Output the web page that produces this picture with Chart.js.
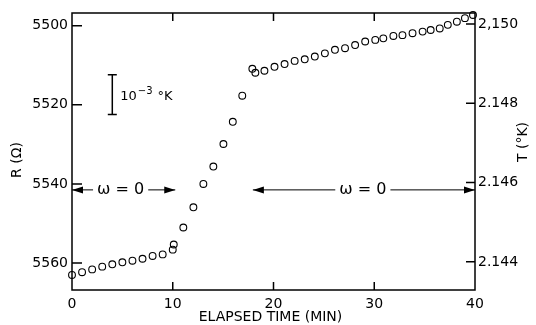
<!DOCTYPE html>
<html>
<head>
<meta charset="utf-8">
<script src="https://cdn.jsdelivr.net/npm/chart.js@4/dist/chart.umd.min.js"></script>
<style>
  body { margin: 0; background: #fff; }
  canvas { display: block; }
</style>
</head>
<body>
<canvas id="plot" width="536" height="325"></canvas>
<script>
// elapsed time (min) and resistance (ohm)
const timeMin = [0, 1, 2, 3, 4, 5, 6, 7, 8, 9, 10, 10.1,
  11.05, 12.05, 13.04, 14.03, 15.03, 15.96, 16.9,
  17.9, 18.2, 19.1, 20.1, 21.1, 22.1, 23.1, 24.1, 25.1, 26.1, 27.1, 28.1, 29.1, 30.1,
  30.9, 31.9, 32.8, 33.8, 34.8, 35.6, 36.5, 37.3, 38.2, 39.0, 39.8];
const resistance = [5563.0, 5562.3, 5561.6, 5560.9, 5560.3, 5559.8, 5559.4, 5558.9, 5558.2, 5557.8, 5556.6, 5555.3,
  5551.0, 5545.9, 5540.0, 5535.6, 5529.9, 5524.3, 5517.7,
  5510.9, 5511.9, 5511.4, 5510.4, 5509.7, 5508.9, 5508.5, 5507.8, 5507.0, 5506.1, 5505.7, 5504.9, 5504.0, 5503.6,
  5503.2, 5502.6, 5502.4, 5501.9, 5501.5, 5501.1, 5500.7, 5499.8, 5499.0, 5498.1, 5497.3];

const timeTicks = [0, 10, 20, 30, 40];
const rTicks = [5500, 5520, 5540, 5560];
const tTicks = [2.150, 2.148, 2.146, 2.144];
const tLabels = ['2,150', '2.148', '2.146', '2.144'];

const FONT = 'DejaVu Sans';

const frame = {
  id: 'frame',
  afterDraw(chart) {
    const ctx = chart.ctx;
    const a = chart.chartArea;
    const x = chart.scales.x, yR = chart.scales.y, yT = chart.scales.yT;
    ctx.save();
    ctx.strokeStyle = '#000';
    ctx.fillStyle = '#000';
    ctx.lineWidth = 1.5;
    ctx.strokeRect(a.left, a.top, a.right - a.left, a.bottom - a.top);

    // inward ticks
    ctx.beginPath();
    timeTicks.slice(1, -1).forEach(v => {
      const px = x.getPixelForValue(v);
      ctx.moveTo(px, a.bottom); ctx.lineTo(px, a.bottom - 8);
      ctx.moveTo(px, a.top); ctx.lineTo(px, a.top + 8);
    });
    rTicks.forEach(v => {
      const py = yR.getPixelForValue(v);
      ctx.moveTo(a.left, py); ctx.lineTo(a.left + 10, py);
    });
    tTicks.forEach(v => {
      const py = yT.getPixelForValue(v);
      ctx.moveTo(a.right, py); ctx.lineTo(a.right - 9, py);
    });
    ctx.stroke();

    // omega = 0 arrows
    ctx.lineWidth = 1;
    const arrowY = yR.getPixelForValue(5541.5);
    const head = (px, dir) => {
      ctx.beginPath();
      ctx.moveTo(px, arrowY);
      ctx.lineTo(px - dir * 11, arrowY - 3.5);
      ctx.lineTo(px - dir * 11, arrowY + 3.5);
      ctx.closePath();
      ctx.fill();
    };
    ctx.font = '16px ' + FONT;
    ctx.textBaseline = 'middle';
    ctx.textAlign = 'center';
    [[0, 10.25], [17.95, 40]].forEach(([t0, t1]) => {
      const x0 = x.getPixelForValue(t0), x1 = x.getPixelForValue(t1);
      const label = '\u03c9 = 0';
      const w = ctx.measureText(label).width;
      const mid = t0 === 0 ? (x0 + x1) / 2 - 3 : x0 + 110;
      ctx.beginPath();
      ctx.moveTo(x0, arrowY); ctx.lineTo(mid - w / 2 - 4, arrowY);
      ctx.moveTo(mid + w / 2 + 4, arrowY); ctx.lineTo(x1, arrowY);
      ctx.stroke();
      head(x0, -1);
      head(x1, 1);
      ctx.fillText(label, mid, arrowY);
    });

    // 10^-3 K scale bar, sized on the temperature axis
    const bx = x.getPixelForValue(4);
    const b0 = yT.getPixelForValue(2.14872), b1 = yT.getPixelForValue(2.14772);
    ctx.lineWidth = 1.5;
    ctx.beginPath();
    ctx.moveTo(bx, b0); ctx.lineTo(bx, b1);
    ctx.moveTo(bx - 4.5, b0); ctx.lineTo(bx + 4.5, b0);
    ctx.moveTo(bx - 4.5, b1); ctx.lineTo(bx + 4.5, b1);
    ctx.stroke();
    ctx.textAlign = 'left';
    ctx.textBaseline = 'alphabetic';
    ctx.font = '13px ' + FONT;
    let tx = bx + 8;
    const ty = (b0 + b1) / 2 + 5;
    ctx.fillText('10', tx, ty);
    tx += ctx.measureText('10').width + 1;
    ctx.font = '10px ' + FONT;
    ctx.fillText('\u22123', tx, ty - 6);
    tx += ctx.measureText('\u22123').width + 5;
    ctx.font = '13px ' + FONT;
    ctx.fillText('\u00b0K', tx, ty);

    // axis titles
    ctx.font = '14px ' + FONT;
    ctx.textAlign = 'center';
    ctx.textBaseline = 'middle';
    ctx.fillText('ELAPSED TIME (MIN)', (a.left + a.right) / 2 - 3, 317);
    [['R (\u03a9)', 17, 160], ['T (\u00b0K)', 523, 142]].forEach(([s, px, py]) => {
      ctx.save();
      ctx.translate(px, py);
      ctx.rotate(-Math.PI / 2);
      ctx.fillText(s, 0, 0);
      ctx.restore();
    });
    ctx.restore();
  }
};

new Chart(document.getElementById('plot'), {
  type: 'scatter',
  data: {
    datasets: [{
      data: timeMin.map((t, i) => ({ x: t, y: resistance[i] })),
      yAxisID: 'y',
      pointRadius: 3.4,
      pointBorderWidth: 1.1,
      pointBorderColor: '#000',
      pointBackgroundColor: 'rgba(255,255,255,0)',
      clip: false
    }]
  },
  options: {
    responsive: false,
    animation: false,
    devicePixelRatio: 1,
    layout: { padding: { top: 13, left: 0, right: 0, bottom: 0 } },
    plugins: { legend: { display: false }, tooltip: { enabled: false } },
    scales: {
      x: {
        type: 'linear', position: 'bottom', min: 0, max: 40,
        afterBuildTicks: s => { s.ticks = timeTicks.map(v => ({ value: v })); },
        afterFit: s => { s.height = 35; },
        grid: { display: false, drawTicks: false },
        border: { display: false },
        ticks: { color: '#000', font: { family: FONT, size: 14 }, padding: 6, maxRotation: 0 }
      },
      y: {
        type: 'linear', position: 'left', reverse: true, min: 5496.8, max: 5566.8,
        afterBuildTicks: s => { s.ticks = rTicks.map(v => ({ value: v })); },
        afterFit: s => { s.width = 72; },
        grid: { display: false, drawTicks: false },
        border: { display: false },
        ticks: { color: '#000', font: { family: FONT, size: 14 }, padding: 4, callback: v => String(v) }
      },
      yT: {
        type: 'linear', position: 'right', min: 2.14329, max: 2.15028,
        afterBuildTicks: s => { s.ticks = tTicks.map(v => ({ value: v })); },
        afterFit: s => { s.width = 61; },
        grid: { display: false, drawTicks: false },
        border: { display: false },
        ticks: {
          color: '#000', font: { family: FONT, size: 14 }, padding: 3,
          callback: (v, i) => tLabels[i]
        }
      }
    }
  },
  plugins: [frame]
});
</script>
</body>
</html>
